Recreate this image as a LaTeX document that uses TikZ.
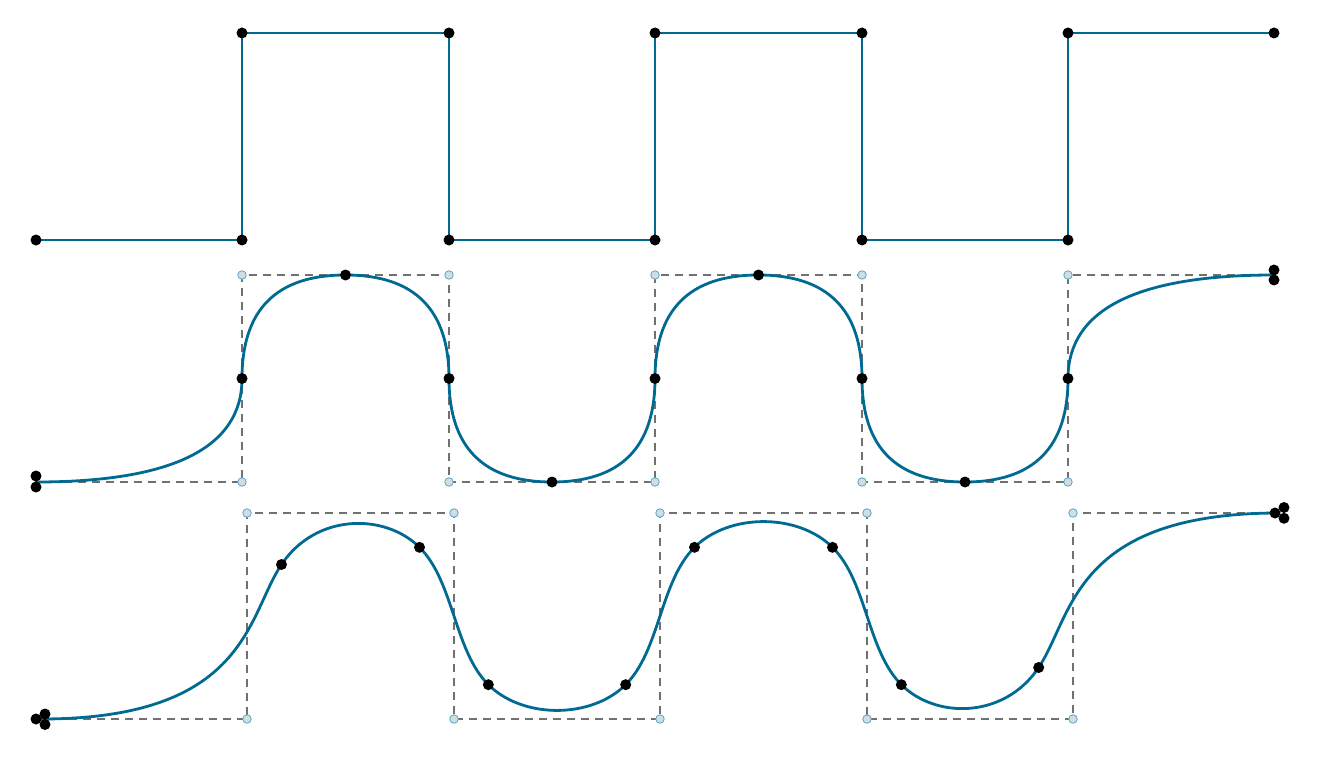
\documentclass[tikz,border=0pt]{standalone}
\usetikzlibrary{calc}
\definecolor{wblue}{HTML}{006A93}
\definecolor{dgray}{HTML}{707070}
\definecolor{cfill}{HTML}{D4DCE0}
\definecolor{cedge}{HTML}{4FA9C9}
\tikzset{
  wave/.style={draw=wblue, line width=2.8pt, line join=round, line cap=round},
  ctrlpoly/.style={draw=dgray, line width=1.3pt, dash pattern=on 8pt off 6pt},
  knot/.style={circle, fill=black, inner sep=0pt, minimum size=11pt},
  cpt/.style={circle, fill=cfill, draw=cedge, line width=0.8pt, inner sep=0pt, minimum size=8.5pt}
}
\begin{document}
\begin{tikzpicture}[x=1pt,y=-1pt]
\useasboundingbox (0,0) rectangle (1323,757);

% ---------------- top row: square wave ----------------
\foreach \n/\x/\y in {t0/36/240,t1/242/240,t2/242/33,t3/449/33,t4/449/240,t5/655/240,
  t6/655/33,t7/862/33,t8/862/240,t9/1068/240,t10/1068/33,t11/1274/33}
  \coordinate (\n) at (\x,\y);
\draw[wave] (t0) -- (t1) -- (t2) -- (t3) -- (t4) -- (t5) -- (t6) -- (t7) -- (t8) -- (t9) -- (t10) -- (t11);
\foreach \n in {t0,t1,t2,t3,t4,t5,t6,t7,t8,t9,t10,t11}
  \node[knot] (d\n) at (\n) {};

% ---------------- middle row: quadratic B-spline ----------------
\foreach \n/\x/\y in {m0/36/482,mA/242/482,mB/242/275,mC/449/275,mD/449/482,mE/655/482,
  mF/655/275,mG/862/275,mH/862/482,mI/1068/482,mJ/1068/275,m11/1274/275}
  \coordinate (\n) at (\x,\y);
\foreach \n/\a/\b in {k1/mA/mB,k2/mB/mC,k3/mC/mD,k4/mD/mE,k5/mE/mF,k6/mF/mG,k7/mG/mH,k8/mH/mI,k9/mI/mJ}
  \coordinate (\n) at ($(\a)!0.5!(\b)$);
\draw[ctrlpoly] (m0) -- (mA) -- (mB) -- (mC) -- (mD) -- (mE) -- (mF) -- (mG) -- (mH) -- (mI) -- (mJ) -- (m11);
\draw[wave]
  (m0) .. controls ($(m0)!2/3!(mA)$) and ($(k1)!2/3!(mA)$) .. (k1)
       .. controls ($(k1)!2/3!(mB)$) and ($(k2)!2/3!(mB)$) .. (k2)
       .. controls ($(k2)!2/3!(mC)$) and ($(k3)!2/3!(mC)$) .. (k3)
       .. controls ($(k3)!2/3!(mD)$) and ($(k4)!2/3!(mD)$) .. (k4)
       .. controls ($(k4)!2/3!(mE)$) and ($(k5)!2/3!(mE)$) .. (k5)
       .. controls ($(k5)!2/3!(mF)$) and ($(k6)!2/3!(mF)$) .. (k6)
       .. controls ($(k6)!2/3!(mG)$) and ($(k7)!2/3!(mG)$) .. (k7)
       .. controls ($(k7)!2/3!(mH)$) and ($(k8)!2/3!(mH)$) .. (k8)
       .. controls ($(k8)!2/3!(mI)$) and ($(k9)!2/3!(mI)$) .. (k9)
       .. controls ($(k9)!2/3!(mJ)$) and ($(m11)!2/3!(mJ)$) .. (m11);
\foreach \n in {mA,mB,mC,mD,mE,mF,mG,mH,mI,mJ}
  \node[cpt] (c\n) at (\n) {};
\foreach \n in {k1,k2,k3,k4,k5,k6,k7,k8,k9}
  \node[knot] (d\n) at (\n) {};
\node[knot] (ms1) at (36,476) {};
\node[knot] (ms2) at (36,487) {};
\node[knot] (me1) at (1274,270) {};
\node[knot] (me2) at (1274,280) {};

% ---------------- bottom row: cubic B-spline ----------------
\foreach \n/\x/\y in {b0/41/719,bA/247/719,bB/247/513,bC/454/513,bD/454/719,bE/660/719,
  bF/660/513,bG/867/513,bH/867/719,bI/1073/719,bJ/1073/513,b11/1279/513,
  n1/281.5/564.5,n2/419.5/547.33,n3/488.33/684.67,n4/625.67/684.67,n5/694.5/547.33,
  n6/832.5/547.33,n7/901.33/684.67,n8/1038.67/667.5}
  \coordinate (\n) at (\x,\y);
\draw[ctrlpoly] (b0) -- (bA) -- (bB) -- (bC) -- (bD) -- (bE) -- (bF) -- (bG) -- (bH) -- (bI) -- (bJ) -- (b11);
\draw[wave]
  (b0) .. controls (247,719) and (247,616) .. (n1)
       .. controls (316,513) and (385,513) .. (n2)
       .. controls (454,581.67) and (454,650.33) .. (n3)
       .. controls (522.67,719) and (591.33,719) .. (n4)
       .. controls (660,650.33) and (660,581.67) .. (n5)
       .. controls (729,513) and (798,513) .. (n6)
       .. controls (867,581.67) and (867,650.33) .. (n7)
       .. controls (935.67,719) and (1004.33,719) .. (n8)
       .. controls (1073,616) and (1073,513) .. (b11);
\foreach \n in {bA,bB,bC,bD,bE,bF,bG,bH,bI,bJ}
  \node[cpt] (c\n) at (\n) {};
\foreach \n in {n1,n2,n3,n4,n5,n6,n7,n8}
  \node[knot] (d\n) at (\n) {};
\node[knot] (bs1) at (36,719) {};
\node[knot] (bs2) at (45,714) {};
\node[knot] (bs3) at (45,724.5) {};
\node[knot] (be1) at (1275,513) {};
\node[knot] (be2) at (1284,507.5) {};
\node[knot] (be3) at (1284,518.3) {};
\end{tikzpicture}
\end{document}
